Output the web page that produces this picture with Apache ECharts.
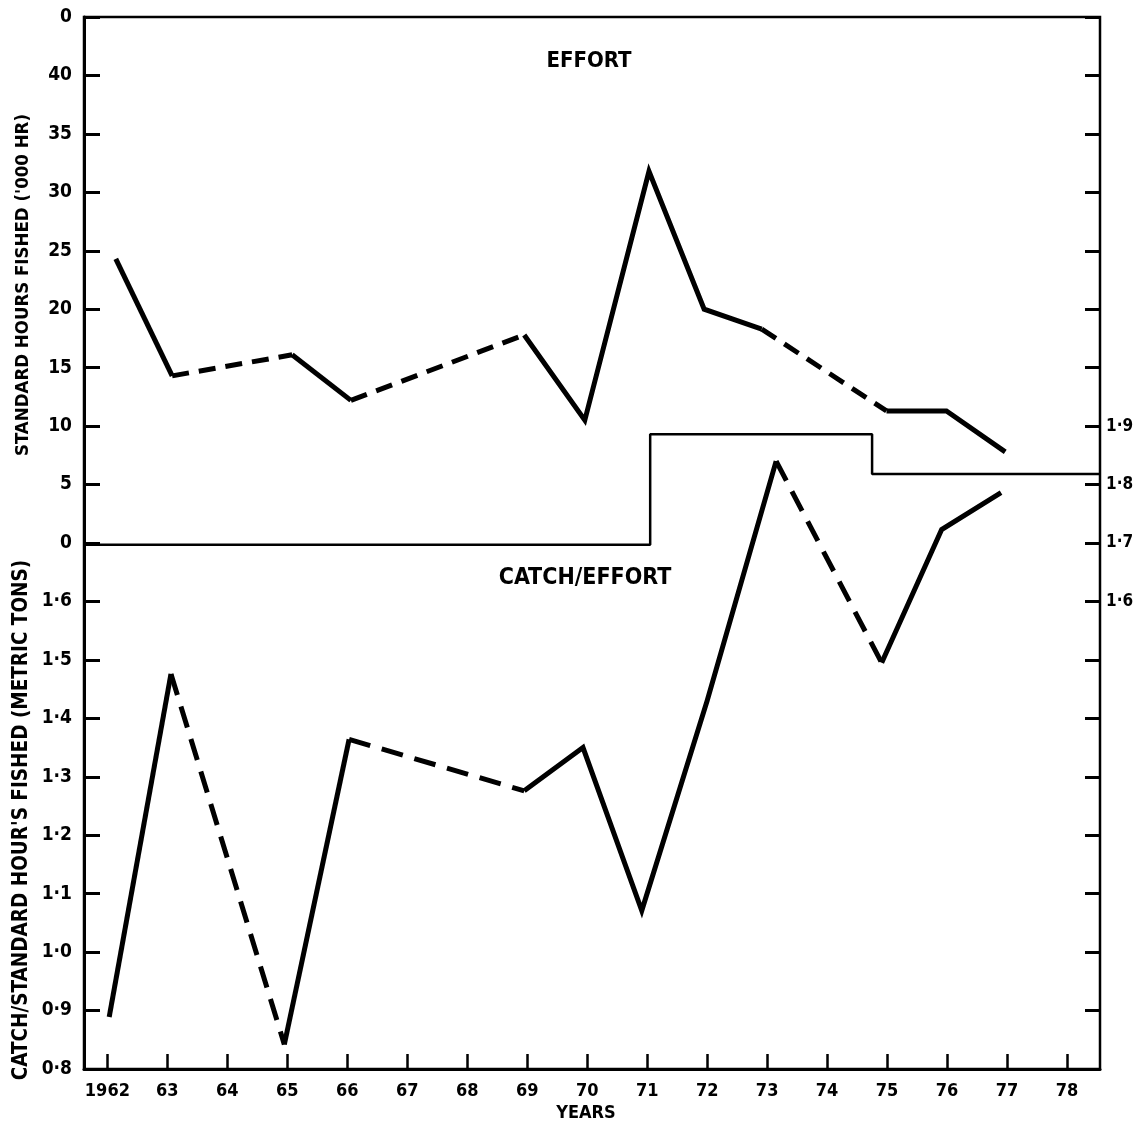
<!DOCTYPE html>
<html>
<head>
<meta charset="utf-8">
<script src="https://cdn.jsdelivr.net/npm/echarts@6/dist/echarts.min.js"></script>
<style>
html,body{margin:0;padding:0;background:#fff;}
#chart{width:1138px;height:1129px;}
</style>
</head>
<body>
<div id="chart"></div>
<script>
// ---- data ----
const yearTicks = [1962,1963,1964,1965,1966,1967,1968,1969,1970,1971,1972,1973,1974,1975,1976,1977,1978];

// Effort: standard hours fished ('000 hr)
const effortYears  = [1962.14, 1963.08, 1965.08, 1966.06, 1968.95, 1969.96, 1971.03, 1971.95, 1972.91, 1974.99, 1975.99, 1976.97];
const effortValues = [24.3, 14.3, 16.1, 12.2, 17.8, 10.5, 31.8, 20.0, 18.3, 11.3, 11.3, 7.8];
// style of each segment between consecutive points: s = solid, d = dashed
const effortSegStyle = ['s','d','s','d','s','s','s','s','d','s','s'];

// Catch / effort: catch per standard hour fished (metric tons)
const catchYears  = [1962.03, 1963.06, 1964.95, 1966.03, 1968.95, 1969.93, 1970.91, 1972.0, 1973.15, 1974.91, 1975.91, 1976.9];
const catchValues = [0.889, 1.476, 0.842, 1.364, 1.276, 1.350, 1.071, 1.43, 1.840, 1.495, 1.723, 1.786];
const catchSegStyle = ['s','d','s','d','s','s','s','s','d','s','s'];

// Thin step line (on the catch/effort scale)
const stepYears  = [1961.61, 1971.05, 1971.05, 1974.75, 1974.75, 1978.55];
const stepValues = [1.697, 1.697, 1.886, 1.886, 1.818, 1.818];

const effortTickLabels = {45:'0'};
const FONT = "'DejaVu Sans Condensed', 'Liberation Sans Narrow', 'DejaVu Sans', sans-serif";

// ---- build series ----
function runs(xs, ys, styles){
  const out = [];
  let cur = {style: styles[0], pts: [[xs[0], ys[0]]]};
  for (let i = 0; i < styles.length; i++){
    if (styles[i] !== cur.style){
      out.push(cur);
      cur = {style: styles[i], pts: [[xs[i], ys[i]]]};
    }
    cur.pts.push([xs[i+1], ys[i+1]]);
  }
  out.push(cur);
  return out;
}
const series = [];
runs(effortYears, effortValues, effortSegStyle).forEach(r => {
  series.push({
    type:'line', xAxisIndex:0, yAxisIndex:0, data:r.pts, symbol:'none', silent:true,
    lineStyle:{color:'#000', width:5, type: r.style==='d' ? [17,10] : 'solid', cap:'butt', join:'miter'}
  });
});
runs(catchYears, catchValues, catchSegStyle).forEach(r => {
  series.push({
    type:'line', xAxisIndex:0, yAxisIndex:1, data:r.pts, symbol:'none', silent:true,
    lineStyle:{color:'#000', width:5, type: r.style==='d' ? [22,12] : 'solid', cap:'butt', join:'miter'}
  });
});
series.push({
  type:'line', xAxisIndex:0, yAxisIndex:1, symbol:'none', silent:true,
  data: stepYears.map((x,i)=>[x, stepValues[i]]),
  lineStyle:{color:'#000', width:2.5}
});

function dot(v){ return (Math.round(v*10)/10).toFixed(1).replace('.', '\u00B7'); }

const labelStyle = {color:'#000', fontFamily:FONT, fontWeight:'bold', fontSize:19};

const option = {
  backgroundColor:'#fff',
  animation:false,
  grid:{left:84, top:17, width:1016, height:1052, show:true, borderColor:'#000', borderWidth:2.5, backgroundColor:'transparent'},
  xAxis:[{
    type:'value', min:1961.61, max:1978.55,
    axisLine:{show:true, onZero:false, lineStyle:{color:'#000', width:3}},
    axisTick:{show:true, inside:true, length:15, lineStyle:{color:'#000', width:2.5}, customValues: yearTicks},
    axisLabel:Object.assign({}, labelStyle, {fontSize:18, margin:13, customValues: yearTicks,
      formatter: v => { const y = Math.round(v); return y === 1962 ? '1962' : String(y).slice(2); }}),
    splitLine:{show:false}
  }],
  yAxis:[
    {
      type:'value', position:'left', min:-45, max:45, interval:5,
      axisLine:{show:true, onZero:false, lineStyle:{color:'#000', width:3}},
      axisTick:{show:true, inside:true, length:16, lineStyle:{color:'#000', width:3}},
      axisLabel:Object.assign({}, labelStyle, {margin:12, showMinLabel:true, showMaxLabel:true,
        formatter: v => v < 0 ? '' : (effortTickLabels[v] !== undefined ? effortTickLabels[v] : String(v))}),
      splitLine:{show:false}
    },
    {
      type:'value', position:'left', min:0.8, max:2.6, interval:0.1,
      axisLine:{show:false, onZero:false}, axisTick:{show:false},
      axisLabel:Object.assign({}, labelStyle, {margin:12, showMinLabel:true,
        formatter: v => v < 1.65 ? dot(v) : ''}),
      splitLine:{show:false}
    },
    {
      type:'value', position:'right', min:0.8, max:2.6, interval:0.1,
      axisLine:{show:true, onZero:false, lineStyle:{color:'#000', width:2}},
      axisTick:{show:true, inside:true, length:15, lineStyle:{color:'#000', width:3}},
      axisLabel:Object.assign({}, labelStyle, {fontSize:17, margin:6,
        formatter: v => (v > 1.55 && v < 1.95) ? dot(v) : ''}),
      splitLine:{show:false}
    }
  ],
  graphic:[
    {type:'text', x:589, y:61, style:{text:'EFFORT', fill:'#000', font:'bold 22px ' + FONT, textAlign:'center', textVerticalAlign:'middle'}},
    {type:'text', x:585, y:578, style:{text:'CATCH/EFFORT', fill:'#000', font:'bold 23px ' + FONT, textAlign:'center', textVerticalAlign:'middle'}},
    {type:'text', x:586, y:1113, style:{text:'YEARS', fill:'#000', font:'bold 18px ' + FONT, textAlign:'center', textVerticalAlign:'middle'}},
    {type:'text', x:23, y:285, rotation:Math.PI/2, style:{text:"STANDARD HOURS FISHED ('000 HR)", fill:'#000', font:'bold 18.5px ' + FONT, textAlign:'center', textVerticalAlign:'middle'}},
    {type:'text', x:22, y:820, rotation:Math.PI/2, style:{text:"CATCH/STANDARD HOUR'S FISHED (METRIC TONS)", fill:'#000', font:'bold 20.5px ' + FONT, textAlign:'center', textVerticalAlign:'middle'}}
  ],
  series: series
};

const chart = echarts.init(document.getElementById('chart'), null, {renderer:'canvas'});
chart.setOption(option);
</script>
</body>
</html>
